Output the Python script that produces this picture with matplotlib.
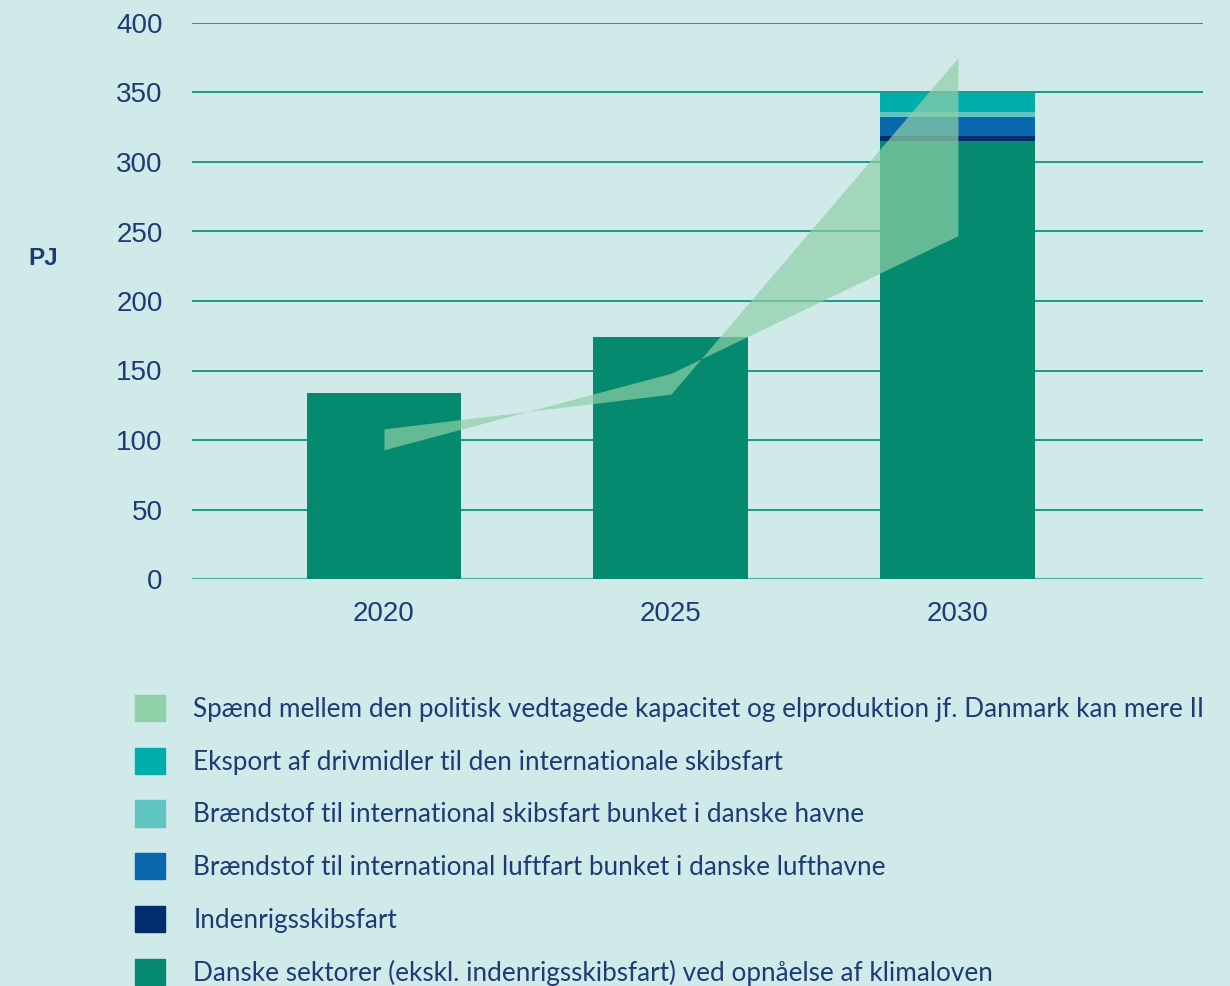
import numpy as np
import matplotlib
matplotlib.use("Agg")
import matplotlib.pyplot as plt
from matplotlib.patches import Patch

# data
years = ["2020", "2025", "2030"]
danske = [134, 174, 315]
indenrigs = [0, 0, 3.5]
luftfart = [0, 0, 14]
skibsfart_bunket = [0, 0, 3.5]
eksport = [0, 0, 13.5]
span_a = [108, 133, 375]
span_b = [93, 148, 247]

labels = [
    "Spænd mellem den politisk vedtagede kapacitet og elproduktion jf. Danmark kan mere II",
    "Eksport af drivmidler til den internationale skibsfart",
    "Brændstof til international skibsfart bunket i danske havne",
    "Brændstof til international luftfart bunket i danske lufthavne",
    "Indenrigsskibsfart",
    "Danske sektorer (ekskl. indenrigsskibsfart) ved opnåelse af klimaloven",
]

bg = "#d0eaea"
navy_txt = "#1d3b74"
c_span = "#8fd0a8"
c_eksport = "#00aeab"
c_skib = "#5fc5c1"
c_luft = "#0a69ae"
c_inden = "#032e6e"
c_danske = "#05896f"

fig = plt.figure(figsize=(12.3, 9.86), dpi=100, facecolor=bg)
ax = fig.add_axes([192 / 1230, 1 - 579 / 986, (1203 - 192) / 1230, (579 - 23) / 986])
ax.set_facecolor(bg)

x = np.arange(len(years))
w = 0.54
bottom = np.zeros(len(years))
stack = [(danske, c_danske), (indenrigs, c_inden), (luftfart, c_luft),
         (skibsfart_bunket, c_skib), (eksport, c_eksport)]
for vals, col in stack:
    ax.bar(x, vals, w, bottom=bottom, color=col, zorder=2, linewidth=0)
    bottom += np.array(vals)

ax.fill_between(x, span_a, span_b, color=c_span, alpha=0.7, linewidth=0, zorder=3)

ax.set_xlim(-0.669, 2.854)
ax.set_ylim(0, 400)
ax.set_yticks(range(0, 401, 50))
ax.set_xticks(x)
ax.set_xticklabels(years)
ax.grid(axis="y", color="#1a9a86", linewidth=1.4, zorder=1)
ax.set_axisbelow(True)
for s in ax.spines.values():
    s.set_visible(False)
ax.axhline(0, color="#4caf9c", linewidth=1.6, zorder=1)
ax.tick_params(length=0, labelsize=20, labelcolor=navy_txt)
ax.tick_params(axis="y", pad=21)
ax.tick_params(axis="x", pad=16)
for t in ax.get_xticklabels() + ax.get_yticklabels():
    t.set_fontfamily("Liberation Sans")

fig.text(28 / 1230, 1 - 258 / 986, "PJ", fontsize=17.5, fontweight="bold",
         color=navy_txt, va="center", ha="left", family="Liberation Sans")

handles = [Patch(color=c) for c in [c_span, c_eksport, c_skib, c_luft, c_inden, c_danske]]
leg = fig.legend(handles, labels, loc="upper left", bbox_to_anchor=(135 / 1230, 1 - 695 / 986),
                 frameon=False, handlelength=1.16, handleheight=1.16,
                 handletextpad=1.07, labelspacing=0.99, borderaxespad=0, borderpad=0,
                 prop={"family": "Lato", "size": 18.8})
for t in leg.get_texts():
    t.set_color(navy_txt)

fig.savefig("out.png", dpi=100, facecolor=bg)
